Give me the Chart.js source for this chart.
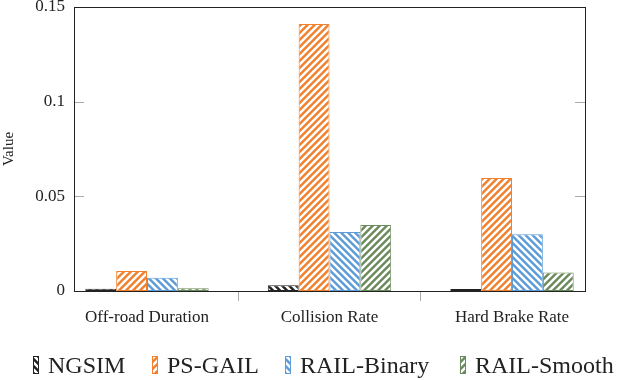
<!DOCTYPE html>
<html>
<head>
<meta charset="utf-8">
<script src="https://cdn.jsdelivr.net/npm/chart.js@4.4.1/dist/chart.umd.min.js"></script>
<style>
  html, body { margin: 0; padding: 0; background: #fff; }
  #wrap { width: 622px; height: 380px; position: relative; }
</style>
</head>
<body>
<div id="wrap"><canvas id="c" width="622" height="380"></canvas></div>
<script>
const categories = ['Off-road Duration', 'Collision Rate', 'Hard Brake Rate'];
const seriesNames = ['NGSIM', 'PS-GAIL', 'RAIL-Binary', 'RAIL-Smooth'];
const ngsim      = [0.0012, 0.0030, 0.0010];
const psGail     = [0.0106, 0.1410, 0.0597];
const railBinary = [0.0070, 0.0312, 0.0300];
const railSmooth = [0.0015, 0.0349, 0.0098];
const yTicks = [0, 0.05, 0.1, 0.15];
const yTickLabels = ['0', '0.05', '0.1', '0.15'];

const colors = ['#222222', '#F0812E', '#5E9CD8', '#6C8B5C'];
const hatchDir = ['\\', '/', '\\', '/'];

function makePattern(color, dir) {
  const p = 7;
  const cv = document.createElement('canvas');
  cv.width = p; cv.height = p;
  const g = cv.getContext('2d');
  g.fillStyle = color;
  g.fillRect(0, 0, p, p);
  g.strokeStyle = '#ffffff';
  g.lineWidth = 2.5;
  g.beginPath();
  if (dir === '/') {
    g.moveTo(-1, p + 1); g.lineTo(p + 1, -1);
    g.moveTo(-p - 1, p + 1); g.lineTo(1, -1);
    g.moveTo(p - 1, p + 1); g.lineTo(2 * p + 1, -1);
  } else {
    g.moveTo(-1, -1); g.lineTo(p + 1, p + 1);
    g.moveTo(-p - 1, -1); g.lineTo(1, p + 1);
    g.moveTo(p - 1, -1); g.lineTo(2 * p + 1, p + 1);
  }
  g.stroke();
  return g.createPattern(cv, 'repeat');
}

const ctx = document.getElementById('c').getContext('2d');
const patterns = colors.map((c, i) => makePattern(c, hatchDir[i]));
const allSeries = [ngsim, psGail, railBinary, railSmooth];

const datasets = allSeries.map((vals, s) => ({
  label: seriesNames[s],
  data: vals.map((v, i) => ({ x: i, y: v })),
  backgroundColor: patterns[s],
  borderColor: colors[s],
  borderWidth: 1,
  borderSkipped: false,
  categoryPercentage: 0.676,
  barPercentage: 1.0
}));

const serif = "'Liberation Serif', 'Times New Roman', serif";

const framePlugin = {
  id: 'frame',
  afterDatasetsDraw(chart) {
    const a = chart.chartArea;
    const c = chart.ctx;
    const ys = chart.scales.y;
    c.save();
    c.strokeStyle = '#aaaaaa';
    c.lineWidth = 1;
    yTicks.forEach(v => {
      const py = Math.round(ys.getPixelForValue(v)) + 0.5;
      c.beginPath();
      c.moveTo(a.left, py); c.lineTo(a.left + 10, py);
      c.moveTo(a.right - 10, py); c.lineTo(a.right, py);
      c.stroke();
    });
    c.strokeStyle = '#222222';
    c.lineWidth = 1;
    c.strokeRect(Math.round(a.left) + 0.5, Math.round(a.top) + 0.5,
                 Math.round(a.right - a.left), Math.round(a.bottom - a.top));
    c.restore();
  },
  afterDraw(chart) {
    const c = chart.ctx;
    const iconX = [33, 152, 285, 460];
    c.save();
    c.font = "24px " + serif;
    c.textBaseline = 'alphabetic';
    c.textAlign = 'left';
    seriesNames.forEach((name, s) => {
      const x = iconX[s];
      c.fillStyle = patterns[s];
      c.fillRect(x, 356, 6, 18);
      c.strokeStyle = colors[s];
      c.lineWidth = 1;
      c.strokeRect(x + 0.5, 356.5, 5, 17);
      c.fillStyle = '#222222';
      c.fillText(name, x + 15, 373);
    });
    c.restore();
  }
};

new Chart(ctx, {
  type: 'bar',
  data: { datasets },
  plugins: [framePlugin],
  options: {
    responsive: false,
    animation: false,
    layout: { padding: { top: 7, right: 37, left: 0, bottom: 0 } },
    plugins: {
      legend: { display: false },
      tooltip: { enabled: false }
    },
    scales: {
      x: {
        type: 'linear',
        min: -0.4,
        max: 2.4,
        offset: false,
        afterBuildTicks: s => { s.ticks = categories.map((c, i) => ({ value: i })); },
        afterFit: s => { s.height = 89; s.paddingLeft = 0; s.paddingRight = 0; },
        ticks: {
          autoSkip: false,
          maxRotation: 0,
          padding: 6,
          color: '#222222',
          font: { family: serif, size: 17 },
          callback: v => categories[v]
        },
        grid: { drawOnChartArea: false, drawTicks: true, tickLength: 10, color: '#aaaaaa' },
        border: { display: true, color: '#222222' }
      },
      y: {
        min: 0,
        max: 0.15,
        afterBuildTicks: s => { s.ticks = yTicks.map(v => ({ value: v })); },
        afterFit: s => { s.width = 74; s.paddingTop = 0; s.paddingBottom = 0; },
        ticks: {
          padding: 9,
          color: '#222222',
          font: { family: serif, size: 17 },
          callback: (v, i) => yTickLabels[i]
        },
        grid: { display: false, drawTicks: false },
        border: { display: true, color: '#222222' },
        title: {
          display: true,
          text: 'Value',
          color: '#222222',
          font: { family: serif, size: 15 },
          padding: { top: 0, bottom: 0 }
        }
      }
    }
  }
});
</script>
</body>
</html>
